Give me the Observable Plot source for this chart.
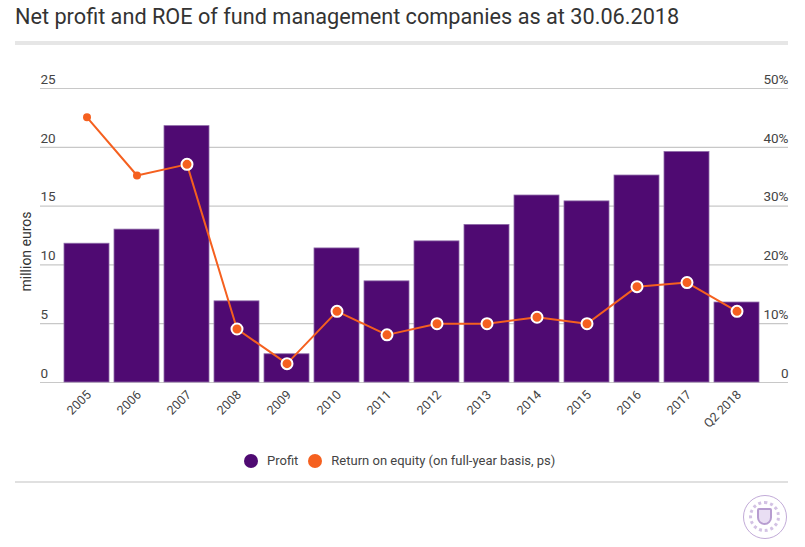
<!DOCTYPE html>
<html>
<head>
<meta charset="utf-8">
<script src="https://cdn.jsdelivr.net/npm/d3@7"></script>
<script src="https://cdn.jsdelivr.net/npm/@observablehq/plot@0.6"></script>
<style>
  html, body { margin: 0; padding: 0; background: #fff; }
  #wrap { position: relative; width: 805px; height: 547px; font-family: Roboto, "Noto Sans", sans-serif; overflow: hidden; }
  #title { position: absolute; left: 15px; top: 4px; font-size: 21.7px; color: #333; white-space: nowrap; }
  #tline { position: absolute; left: 15px; top: 41px; width: 773px; height: 4px; background: #e6e6e6; }
  #bline { position: absolute; left: 15px; top: 481px; width: 773px; height: 2px; background: #e0e0e0; }
  #legend { position: absolute; left: 244px; top: 453px; display: flex; align-items: center; font-size: 13px; color: #444; white-space: nowrap; }
  .sw { width: 14px; height: 14px; border-radius: 50%; display: inline-block; margin-right: 9px; }
  #logo { position: absolute; left: 743px; top: 495px; width: 44px; height: 44px; border-radius: 50%; border: 1.5px solid #c2abd8; box-sizing: border-box; }
  #logo .inner { position: absolute; left: 5px; top: 5px; width: 31px; height: 31px; border-radius: 50%; border: 3px dotted #d3c2e4; box-sizing: border-box; }
  #logo .shield { position: absolute; left: 13px; top: 12px; width: 15px; height: 17px; border: 2px solid #b79dd0; border-radius: 2px 2px 8px 8px; box-sizing: border-box; background: #e9def3; }
  #chart { position: absolute; left: 0; top: 0; }
</style>
</head>
<body>
<div id="wrap">
  <div id="chart"></div>
  <div id="title">Net profit and ROE of fund management companies as at 30.06.2018</div>
  <div id="tline"></div>
  <div id="legend"></div>
  <div id="bline"></div>
  <div id="logo"><div class="inner"></div><div class="shield"></div></div>
</div>
<script>
const categories = ["2005","2006","2007","2008","2009","2010","2011","2012","2013","2014","2015","2016","2017","Q2 2018"];
const profit = [11.8, 13.0, 21.8, 6.9, 2.4, 11.4, 8.6, 12.0, 13.4, 15.9, 15.4, 17.6, 19.6, 6.8];
const roe = [45.1, 35.2, 37.1, 9.1, 3.2, 12.1, 8.1, 10.0, 10.0, 11.1, 10.0, 16.3, 17.0, 12.1];
const leftTicks = [0, 5, 10, 15, 20, 25];
const rightTicks = [0, 10, 20, 30, 40, 50];
const seriesNames = ["Profit", "Return on equity (on full-year basis, ps)"];
const colors = ["#4f0a72", "#f5601f"];
const yLabel = "million euros";

const data = categories.map((c, i) => ({cat: c, profit: profit[i], roe: roe[i], solid: i < 2}));
const roeToLeft = d => d * 25 / 50;

const chart = Plot.plot({
  width: 805,
  height: 547,
  marginTop: 88,
  marginBottom: 165,
  marginLeft: 40,
  marginRight: 17,
  style: {fontFamily: "Roboto, sans-serif", background: "transparent"},
  x: {type: "band", domain: categories, range: [59, 764], padding: 0.1, round: false, axis: null},
  y: {domain: [0, 25], axis: null},
  marks: [
    Plot.ruleY(leftTicks, {stroke: "#c8c8c8", strokeWidth: 1.2}),
    Plot.barY(data, {x: "cat", y: "profit", fill: colors[0], stroke: "#8e6aa8", strokeWidth: 0.8}),
    Plot.line(data, {x: "cat", y: d => roeToLeft(d.roe), stroke: colors[1], strokeWidth: 2}),
    Plot.dot(data.filter(d => d.solid), {x: "cat", y: d => roeToLeft(d.roe), r: 4, fill: colors[1]}),
    Plot.dot(data.filter(d => !d.solid), {x: "cat", y: d => roeToLeft(d.roe), r: 5.5, fill: colors[1], stroke: "white", strokeWidth: 2}),
    Plot.text(leftTicks, {y: d => d, text: d => String(d), frameAnchor: "left", textAnchor: "start", dy: -9, fontSize: 13.5, fill: "#444"}),
    Plot.text(rightTicks, {y: d => roeToLeft(d), text: d => d === 0 ? "0" : d + "%", frameAnchor: "right", textAnchor: "end", dy: -9, fontSize: 13.5, fill: "#444"}),
    Plot.text(categories, {x: d => d, text: d => d, frameAnchor: "bottom", rotate: -45, textAnchor: "end", dx: 5, dy: 13, fontSize: 12.5, fill: "#444"}),
    Plot.text([yLabel], {text: d => d, frameAnchor: "left", rotate: -90, dx: -14, dy: 16, fontSize: 14, fill: "#333", textAnchor: "middle"})
  ]
});
document.getElementById("chart").appendChild(chart);

const legend = document.getElementById("legend");
seriesNames.forEach((n, i) => {
  const sw = document.createElement("span");
  sw.className = "sw";
  sw.style.background = colors[i];
  if (i > 0) sw.style.marginLeft = "10px";
  legend.appendChild(sw);
  const t = document.createElement("span");
  t.textContent = n;
  legend.appendChild(t);
});
</script>
</body>
</html>
